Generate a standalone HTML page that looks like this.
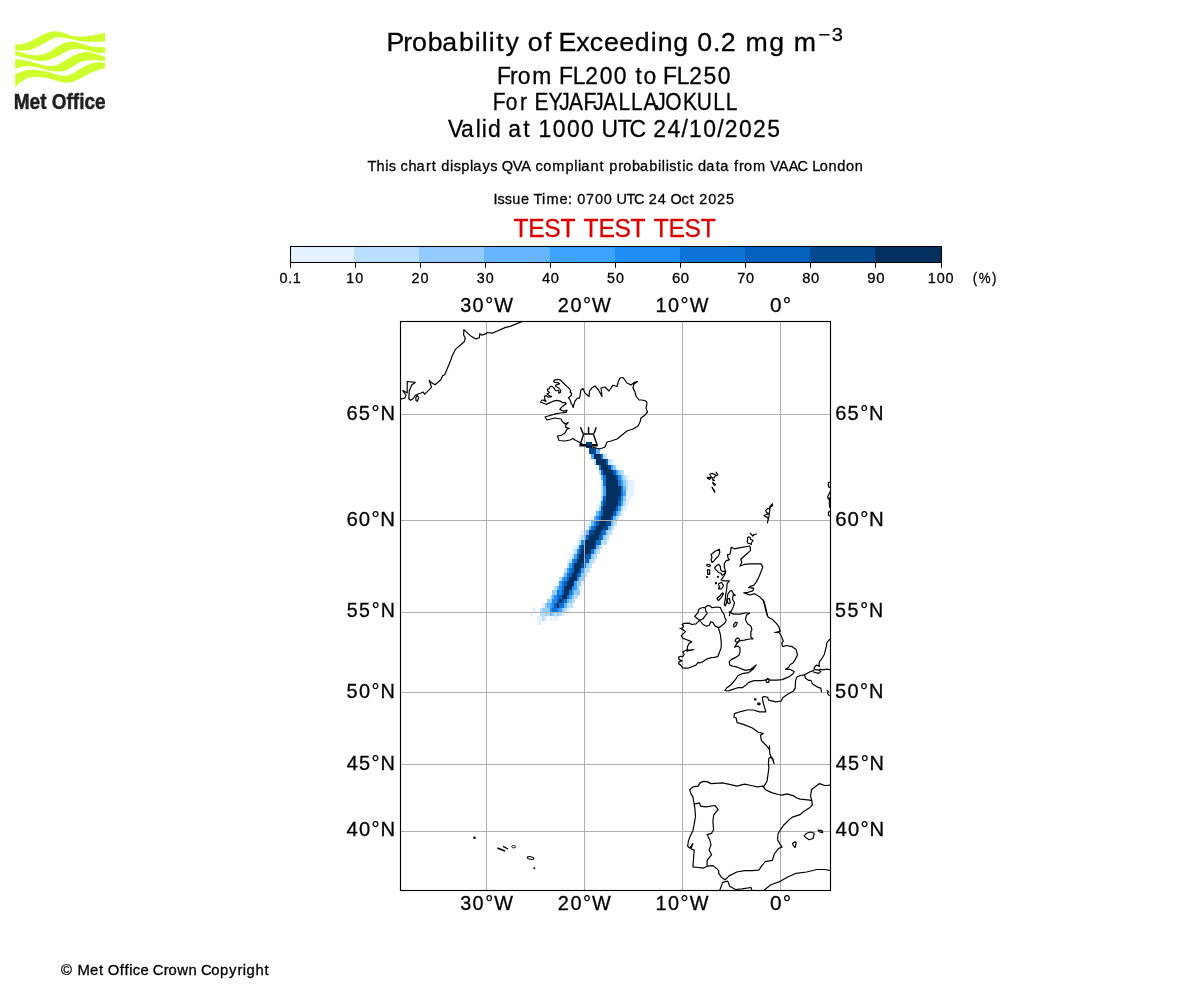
<!DOCTYPE html>
<html><head><meta charset="utf-8"><style>
html,body{margin:0;padding:0;background:#fff;width:1200px;height:1000px;overflow:hidden}
svg{display:block}
text{font-family:"Liberation Sans",sans-serif;font-kerning:none;white-space:pre}
svg{will-change:transform}
</style></head><body>
<svg width="1200" height="1000" viewBox="0 0 1200 1000">
<defs><clipPath id="mapclip"><rect x="400.5" y="321.5" width="430.00" height="569.00"/></clipPath></defs>
<text transform="scale(1.0077,1)" x="383.63 400.25 408.98 424.59 438.97 455.54 471.14 478.02 484.93 492.42 501.74 515.98 523.83 539.78 547.78 554.31 571.74 585.22 599.27 614.54 629.85 645.75 652.67 668.21 683.86 692.00 707.52 715.34 731.20 739.94 763.35 779.00 787.74" y="50.70" font-size="26.49" fill="#000" stroke="#000" stroke-width="0.3">Probability of Exceeding 0.2 mg m</text>
<text transform="scale(1.0873,1)" x="752.87 765.02" y="40.80" font-size="18.54" fill="#000" stroke="#000" stroke-width="0.3">−3</text>
<text transform="scale(0.9720,1)" x="511.28 524.65 532.77 547.69 568.93 575.18 589.29 602.14 616.98 631.53 645.72 653.77 662.03 675.93 682.18 696.29 709.14 723.89 738.53" y="84.00" font-size="23.54" fill="#000" stroke="#000" stroke-width="0.3">From FL200 to FL250</text>
<text transform="scale(0.8899,1)" x="553.80 568.38 584.32 593.52 600.76 616.31 628.40 639.40 655.79 666.77 677.77 695.16 709.07 723.24 736.26 747.68 767.65 783.00 801.63 815.54" y="109.90" font-size="23.54" fill="#000" stroke="#000" stroke-width="0.3">For EYJAFJALLAJOKULL</text>
<text transform="scale(0.9736,1)" x="460.12 473.61 488.56 494.91 501.24 515.53 522.02 537.56 545.72 553.21 567.84 582.36 596.88 611.05 617.80 634.44 646.60 663.55 670.86 685.67 700.06 707.77 722.41 736.79 744.32 759.14 773.36 788.09" y="136.60" font-size="23.54" fill="#000" stroke="#000" stroke-width="0.3">Valid at 1000 UTC 24/10/2025</text>
<text transform="scale(0.9895,1)" x="371.34 380.49 389.34 392.99 400.42 404.71 412.78 420.99 430.62 436.35 441.37 445.93 454.88 458.54 466.22 475.00 478.26 487.66 495.57 502.99 507.07 518.21 526.91 536.81 541.10 549.01 558.14 571.52 580.29 584.20 587.46 596.77 605.95 610.97 615.70 624.86 629.82 638.66 646.80 656.17 664.95 668.84 672.75 676.41 684.31 689.47 693.06 700.95 705.51 713.82 723.41 727.92 737.03 741.91 746.96 751.92 761.05 774.16 778.33 787.03 797.03 806.00 816.48 820.87 828.54 837.31 846.09 854.93 863.70" y="170.90" font-size="14.72" fill="#000" stroke="#000" stroke-width="0.3">This chart displays QVA compliant probabilistic data from VAAC London</text>
<text transform="scale(0.9824,1)" x="502.29 506.52 513.89 521.51 530.40 539.02 543.13 551.84 556.23 569.49 578.25 582.87 587.57 596.53 605.56 614.55 623.35 627.50 637.81 645.34 655.87 660.38 669.56 678.35 682.49 693.81 702.24 707.29 711.80 720.98 729.79 738.92" y="204.00" font-size="14.72" fill="#000" stroke="#000" stroke-width="0.3">Issue Time: 0700 UTC 24 Oct 2025</text>
<text transform="scale(0.9302,1)" x="552.00 567.89 585.11 602.46 619.34 627.42 643.31 660.53 677.87 694.76 702.83 718.72 735.94 753.29" y="237.10" font-size="26.49" fill="#dc0000" stroke="#dc0000" stroke-width="0.3">TEST TEST TEST</text>
<rect x="290.5" y="246.5" width="63.5" height="16.0" fill="#e4f2ff" shape-rendering="crispEdges"/>
<rect x="354" y="246.5" width="65" height="16.0" fill="#bbdfff" shape-rendering="crispEdges"/>
<rect x="419" y="246.5" width="65" height="16.0" fill="#93caff" shape-rendering="crispEdges"/>
<rect x="484" y="246.5" width="66" height="16.0" fill="#67b5ff" shape-rendering="crispEdges"/>
<rect x="550" y="246.5" width="65" height="16.0" fill="#3da2ff" shape-rendering="crispEdges"/>
<rect x="615" y="246.5" width="65" height="16.0" fill="#1e8cf0" shape-rendering="crispEdges"/>
<rect x="680" y="246.5" width="65" height="16.0" fill="#0f74d8" shape-rendering="crispEdges"/>
<rect x="745" y="246.5" width="65" height="16.0" fill="#0561c0" shape-rendering="crispEdges"/>
<rect x="810" y="246.5" width="65" height="16.0" fill="#03498f" shape-rendering="crispEdges"/>
<rect x="875" y="246.5" width="66.5" height="16.0" fill="#03305f" shape-rendering="crispEdges"/>
<rect x="290.5" y="246.5" width="651.0" height="16.0" fill="none" stroke="#000" stroke-width="1.05"/>
<line x1="290.50" y1="262.5" x2="290.50" y2="267.7" stroke="#000" stroke-width="1.05"/>
<text transform="scale(0.9782,1)" x="285.79 294.61 299.26" y="283.00" font-size="14.72" fill="#000" stroke="#000" stroke-width="0.3">0.1</text>
<line x1="355.50" y1="262.5" x2="355.50" y2="267.7" stroke="#000" stroke-width="1.05"/>
<text transform="scale(0.9737,1)" x="355.69 364.84" y="283.00" font-size="14.72" fill="#000" stroke="#000" stroke-width="0.3">10</text>
<line x1="420.50" y1="262.5" x2="420.50" y2="267.7" stroke="#000" stroke-width="1.05"/>
<text transform="scale(0.9773,1)" x="421.10 430.33" y="283.00" font-size="14.72" fill="#000" stroke="#000" stroke-width="0.3">20</text>
<line x1="485.50" y1="262.5" x2="485.50" y2="267.7" stroke="#000" stroke-width="1.05"/>
<text transform="scale(0.9752,1)" x="488.95 498.00" y="283.00" font-size="14.72" fill="#000" stroke="#000" stroke-width="0.3">30</text>
<line x1="550.50" y1="262.5" x2="550.50" y2="267.7" stroke="#000" stroke-width="1.05"/>
<text transform="scale(0.9949,1)" x="544.80 553.68" y="283.00" font-size="14.72" fill="#000" stroke="#000" stroke-width="0.3">40</text>
<line x1="615.50" y1="262.5" x2="615.50" y2="267.7" stroke="#000" stroke-width="1.05"/>
<text transform="scale(0.9670,1)" x="627.71 636.91" y="283.00" font-size="14.72" fill="#000" stroke="#000" stroke-width="0.3">50</text>
<line x1="680.50" y1="262.5" x2="680.50" y2="267.7" stroke="#000" stroke-width="1.05"/>
<text transform="scale(1.0119,1)" x="664.08 672.82" y="283.00" font-size="14.72" fill="#000" stroke="#000" stroke-width="0.3">60</text>
<line x1="745.50" y1="262.5" x2="745.50" y2="267.7" stroke="#000" stroke-width="1.05"/>
<text transform="scale(0.9843,1)" x="748.89 757.90" y="283.00" font-size="14.72" fill="#000" stroke="#000" stroke-width="0.3">70</text>
<line x1="810.50" y1="262.5" x2="810.50" y2="267.7" stroke="#000" stroke-width="1.05"/>
<text transform="scale(1.0002,1)" x="802.12 810.96" y="283.00" font-size="14.72" fill="#000" stroke="#000" stroke-width="0.3">80</text>
<line x1="875.50" y1="262.5" x2="875.50" y2="267.7" stroke="#000" stroke-width="1.05"/>
<text transform="scale(1.0109,1)" x="857.95 866.73" y="283.00" font-size="14.72" fill="#000" stroke="#000" stroke-width="0.3">90</text>
<line x1="941.50" y1="262.5" x2="941.50" y2="267.7" stroke="#000" stroke-width="1.05"/>
<text transform="scale(0.9810,1)" x="945.77 954.86 963.87" y="283.00" font-size="14.72" fill="#000" stroke="#000" stroke-width="0.3">100</text>
<text transform="scale(0.9017,1)" x="1078.75 1085.35 1100.13" y="283.00" font-size="14.72" fill="#000" stroke="#000" stroke-width="0.3">(%)</text>
<g clip-path="url(#mapclip)">
<g shape-rendering="crispEdges"><rect x="586" y="443" width="6" height="5" fill="#03498f"/><rect x="589" y="448" width="7" height="6" fill="#03498f"/><rect x="596" y="448" width="4" height="6" fill="#67b5ff"/><rect x="591" y="454" width="3" height="5" fill="#3da2ff"/><rect x="594" y="454" width="7" height="5" fill="#03305f"/><rect x="601" y="454" width="2" height="5" fill="#0f74d8"/><rect x="603" y="454" width="4" height="5" fill="#bbdfff"/><rect x="594" y="459" width="2" height="6" fill="#bbdfff"/><rect x="596" y="459" width="10" height="6" fill="#03305f"/><rect x="606" y="459" width="2" height="6" fill="#0561c0"/><rect x="608" y="459" width="3" height="6" fill="#bbdfff"/><rect x="611" y="459" width="3" height="6" fill="#e4f2ff"/><rect x="596" y="465" width="2" height="5" fill="#e4f2ff"/><rect x="599" y="465" width="2" height="5" fill="#0f74d8"/><rect x="601" y="465" width="7" height="5" fill="#03305f"/><rect x="608" y="465" width="3" height="5" fill="#03498f"/><rect x="611" y="465" width="2" height="5" fill="#3da2ff"/><rect x="613" y="465" width="3" height="5" fill="#93caff"/><rect x="616" y="465" width="3" height="5" fill="#e4f2ff"/><rect x="599" y="470" width="2" height="5" fill="#bbdfff"/><rect x="601" y="470" width="2" height="5" fill="#0f74d8"/><rect x="603" y="470" width="10" height="5" fill="#03305f"/><rect x="613" y="470" width="3" height="5" fill="#0561c0"/><rect x="616" y="470" width="2" height="5" fill="#3da2ff"/><rect x="618" y="470" width="3" height="5" fill="#93caff"/><rect x="621" y="470" width="3" height="5" fill="#bbdfff"/><rect x="601" y="475" width="2" height="5" fill="#67b5ff"/><rect x="603" y="475" width="3" height="5" fill="#0f74d8"/><rect x="606" y="475" width="10" height="5" fill="#03305f"/><rect x="616" y="475" width="2" height="5" fill="#03498f"/><rect x="618" y="475" width="3" height="5" fill="#1e8cf0"/><rect x="621" y="475" width="2" height="5" fill="#67b5ff"/><rect x="623" y="475" width="3" height="5" fill="#bbdfff"/><rect x="626" y="475" width="3" height="5" fill="#e4f2ff"/><rect x="601" y="480" width="2" height="6" fill="#bbdfff"/><rect x="603" y="480" width="3" height="6" fill="#0f74d8"/><rect x="606" y="480" width="12" height="6" fill="#03305f"/><rect x="618" y="480" width="3" height="6" fill="#0f74d8"/><rect x="621" y="480" width="2" height="6" fill="#3da2ff"/><rect x="623" y="480" width="3" height="6" fill="#93caff"/><rect x="626" y="480" width="2" height="6" fill="#bbdfff"/><rect x="628" y="480" width="6" height="6" fill="#e4f2ff"/><rect x="601" y="486" width="2" height="5" fill="#bbdfff"/><rect x="603" y="486" width="3" height="5" fill="#3da2ff"/><rect x="606" y="486" width="15" height="5" fill="#03305f"/><rect x="621" y="486" width="2" height="5" fill="#0f74d8"/><rect x="623" y="486" width="3" height="5" fill="#67b5ff"/><rect x="626" y="486" width="2" height="5" fill="#bbdfff"/><rect x="628" y="486" width="6" height="5" fill="#e4f2ff"/><rect x="601" y="491" width="2" height="5" fill="#bbdfff"/><rect x="603" y="491" width="3" height="5" fill="#3da2ff"/><rect x="606" y="491" width="15" height="5" fill="#03305f"/><rect x="621" y="491" width="2" height="5" fill="#0f74d8"/><rect x="623" y="491" width="3" height="5" fill="#3da2ff"/><rect x="626" y="491" width="8" height="5" fill="#e4f2ff"/><rect x="601" y="496" width="2" height="5" fill="#93caff"/><rect x="603" y="496" width="3" height="5" fill="#0561c0"/><rect x="606" y="496" width="12" height="5" fill="#03305f"/><rect x="618" y="496" width="3" height="5" fill="#03498f"/><rect x="621" y="496" width="2" height="5" fill="#1e8cf0"/><rect x="623" y="496" width="3" height="5" fill="#93caff"/><rect x="626" y="496" width="5" height="5" fill="#e4f2ff"/><rect x="599" y="501" width="2" height="5" fill="#e4f2ff"/><rect x="601" y="501" width="2" height="5" fill="#1e8cf0"/><rect x="603" y="501" width="3" height="5" fill="#03498f"/><rect x="606" y="501" width="12" height="5" fill="#03305f"/><rect x="618" y="501" width="3" height="5" fill="#0561c0"/><rect x="621" y="501" width="2" height="5" fill="#3da2ff"/><rect x="623" y="501" width="3" height="5" fill="#bbdfff"/><rect x="626" y="501" width="3" height="5" fill="#e4f2ff"/><rect x="596" y="506" width="3" height="5" fill="#e4f2ff"/><rect x="599" y="506" width="2" height="5" fill="#93caff"/><rect x="601" y="506" width="2" height="5" fill="#0561c0"/><rect x="603" y="506" width="13" height="5" fill="#03305f"/><rect x="616" y="506" width="2" height="5" fill="#0561c0"/><rect x="618" y="506" width="3" height="5" fill="#3da2ff"/><rect x="621" y="506" width="2" height="5" fill="#bbdfff"/><rect x="623" y="506" width="4" height="5" fill="#e4f2ff"/><rect x="594" y="511" width="2" height="5" fill="#e4f2ff"/><rect x="596" y="511" width="3" height="5" fill="#67b5ff"/><rect x="599" y="511" width="2" height="5" fill="#1e8cf0"/><rect x="601" y="511" width="2" height="5" fill="#0561c0"/><rect x="603" y="511" width="10" height="5" fill="#03305f"/><rect x="613" y="511" width="3" height="5" fill="#0561c0"/><rect x="616" y="511" width="2" height="5" fill="#3da2ff"/><rect x="618" y="511" width="3" height="5" fill="#93caff"/><rect x="621" y="511" width="3" height="5" fill="#e4f2ff"/><rect x="591" y="516" width="3" height="5" fill="#e4f2ff"/><rect x="594" y="516" width="2" height="5" fill="#67b5ff"/><rect x="596" y="516" width="3" height="5" fill="#1e8cf0"/><rect x="599" y="516" width="2" height="5" fill="#0561c0"/><rect x="601" y="516" width="10" height="5" fill="#03305f"/><rect x="611" y="516" width="2" height="5" fill="#0561c0"/><rect x="613" y="516" width="3" height="5" fill="#67b5ff"/><rect x="616" y="516" width="3" height="5" fill="#bbdfff"/><rect x="586" y="521" width="5" height="5" fill="#e4f2ff"/><rect x="591" y="521" width="3" height="5" fill="#67b5ff"/><rect x="594" y="521" width="2" height="5" fill="#1e8cf0"/><rect x="596" y="521" width="3" height="5" fill="#0561c0"/><rect x="599" y="521" width="7" height="5" fill="#03305f"/><rect x="606" y="521" width="5" height="5" fill="#03498f"/><rect x="611" y="521" width="2" height="5" fill="#67b5ff"/><rect x="613" y="521" width="4" height="5" fill="#bbdfff"/><rect x="585" y="526" width="4" height="4" fill="#e4f2ff"/><rect x="589" y="526" width="2" height="4" fill="#67b5ff"/><rect x="591" y="526" width="3" height="4" fill="#0f74d8"/><rect x="594" y="526" width="2" height="4" fill="#0561c0"/><rect x="596" y="526" width="7" height="4" fill="#03305f"/><rect x="603" y="526" width="5" height="4" fill="#03498f"/><rect x="608" y="526" width="3" height="4" fill="#67b5ff"/><rect x="611" y="526" width="3" height="4" fill="#bbdfff"/><rect x="581" y="530" width="3" height="5" fill="#e4f2ff"/><rect x="584" y="530" width="2" height="5" fill="#bbdfff"/><rect x="586" y="530" width="3" height="5" fill="#67b5ff"/><rect x="589" y="530" width="5" height="5" fill="#03498f"/><rect x="594" y="530" width="7" height="5" fill="#03305f"/><rect x="601" y="530" width="2" height="5" fill="#0561c0"/><rect x="603" y="530" width="3" height="5" fill="#0f74d8"/><rect x="606" y="530" width="2" height="5" fill="#93caff"/><rect x="608" y="530" width="4" height="5" fill="#bbdfff"/><rect x="579" y="535" width="2" height="5" fill="#e4f2ff"/><rect x="581" y="535" width="4" height="5" fill="#bbdfff"/><rect x="585" y="535" width="1" height="5" fill="#67b5ff"/><rect x="586" y="535" width="3" height="5" fill="#0561c0"/><rect x="589" y="535" width="10" height="5" fill="#03305f"/><rect x="599" y="535" width="2" height="5" fill="#0561c0"/><rect x="601" y="535" width="2" height="5" fill="#0f74d8"/><rect x="603" y="535" width="3" height="5" fill="#93caff"/><rect x="606" y="535" width="3" height="5" fill="#bbdfff"/><rect x="577" y="540" width="2" height="5" fill="#e4f2ff"/><rect x="579" y="540" width="2" height="5" fill="#bbdfff"/><rect x="581" y="540" width="3" height="5" fill="#1e8cf0"/><rect x="584" y="540" width="12" height="5" fill="#03305f"/><rect x="596" y="540" width="5" height="5" fill="#0f74d8"/><rect x="601" y="540" width="6" height="5" fill="#bbdfff"/><rect x="574" y="545" width="3" height="4" fill="#e4f2ff"/><rect x="577" y="545" width="2" height="4" fill="#bbdfff"/><rect x="579" y="545" width="2" height="4" fill="#0f74d8"/><rect x="581" y="545" width="3" height="4" fill="#03498f"/><rect x="584" y="545" width="10" height="4" fill="#03305f"/><rect x="594" y="545" width="2" height="4" fill="#03498f"/><rect x="596" y="545" width="3" height="4" fill="#67b5ff"/><rect x="599" y="545" width="3" height="4" fill="#bbdfff"/><rect x="572" y="549" width="2" height="5" fill="#e4f2ff"/><rect x="574" y="549" width="3" height="5" fill="#bbdfff"/><rect x="577" y="549" width="2" height="5" fill="#1e8cf0"/><rect x="579" y="549" width="2" height="5" fill="#0561c0"/><rect x="581" y="549" width="10" height="5" fill="#03305f"/><rect x="591" y="549" width="3" height="5" fill="#0f74d8"/><rect x="594" y="549" width="2" height="5" fill="#67b5ff"/><rect x="596" y="549" width="4" height="5" fill="#bbdfff"/><rect x="569" y="554" width="3" height="5" fill="#e4f2ff"/><rect x="572" y="554" width="2" height="5" fill="#bbdfff"/><rect x="574" y="554" width="3" height="5" fill="#3da2ff"/><rect x="577" y="554" width="2" height="5" fill="#0561c0"/><rect x="579" y="554" width="7" height="5" fill="#03305f"/><rect x="586" y="554" width="5" height="5" fill="#0561c0"/><rect x="591" y="554" width="3" height="5" fill="#93caff"/><rect x="594" y="554" width="3" height="5" fill="#bbdfff"/><rect x="567" y="559" width="2" height="4" fill="#e4f2ff"/><rect x="569" y="559" width="3" height="4" fill="#bbdfff"/><rect x="572" y="559" width="2" height="4" fill="#1e8cf0"/><rect x="574" y="559" width="3" height="4" fill="#0f74d8"/><rect x="577" y="559" width="8" height="4" fill="#03305f"/><rect x="585" y="559" width="4" height="4" fill="#0561c0"/><rect x="589" y="559" width="2" height="4" fill="#93caff"/><rect x="591" y="559" width="4" height="4" fill="#bbdfff"/><rect x="567" y="563" width="2" height="5" fill="#bbdfff"/><rect x="569" y="563" width="3" height="5" fill="#3da2ff"/><rect x="572" y="563" width="2" height="5" fill="#0f74d8"/><rect x="574" y="563" width="7" height="5" fill="#03305f"/><rect x="581" y="563" width="3" height="5" fill="#03498f"/><rect x="584" y="563" width="2" height="5" fill="#0f74d8"/><rect x="586" y="563" width="3" height="5" fill="#93caff"/><rect x="589" y="563" width="3" height="5" fill="#bbdfff"/><rect x="564" y="568" width="3" height="5" fill="#bbdfff"/><rect x="567" y="568" width="2" height="5" fill="#3da2ff"/><rect x="569" y="568" width="3" height="5" fill="#0f74d8"/><rect x="572" y="568" width="2" height="5" fill="#0561c0"/><rect x="574" y="568" width="5" height="5" fill="#03305f"/><rect x="579" y="568" width="2" height="5" fill="#03498f"/><rect x="581" y="568" width="3" height="5" fill="#3da2ff"/><rect x="584" y="568" width="6" height="5" fill="#bbdfff"/><rect x="562" y="573" width="2" height="4" fill="#e4f2ff"/><rect x="564" y="573" width="3" height="4" fill="#67b5ff"/><rect x="567" y="573" width="2" height="4" fill="#0f74d8"/><rect x="569" y="573" width="3" height="4" fill="#0561c0"/><rect x="572" y="573" width="5" height="4" fill="#03305f"/><rect x="577" y="573" width="2" height="4" fill="#0561c0"/><rect x="579" y="573" width="2" height="4" fill="#0f74d8"/><rect x="581" y="573" width="3" height="4" fill="#93caff"/><rect x="584" y="573" width="3" height="4" fill="#bbdfff"/><rect x="559" y="577" width="3" height="4" fill="#bbdfff"/><rect x="562" y="577" width="2" height="4" fill="#3da2ff"/><rect x="564" y="577" width="3" height="4" fill="#1e8cf0"/><rect x="567" y="577" width="2" height="4" fill="#0561c0"/><rect x="569" y="577" width="8" height="4" fill="#03305f"/><rect x="577" y="577" width="2" height="4" fill="#1e8cf0"/><rect x="579" y="577" width="5" height="4" fill="#93caff"/><rect x="557" y="581" width="2" height="5" fill="#e4f2ff"/><rect x="559" y="581" width="3" height="5" fill="#3da2ff"/><rect x="562" y="581" width="2" height="5" fill="#0f74d8"/><rect x="564" y="581" width="3" height="5" fill="#0561c0"/><rect x="567" y="581" width="7" height="5" fill="#03305f"/><rect x="574" y="581" width="3" height="5" fill="#3da2ff"/><rect x="577" y="581" width="4" height="5" fill="#93caff"/><rect x="581" y="581" width="3" height="5" fill="#e4f2ff"/><rect x="554" y="586" width="3" height="4" fill="#bbdfff"/><rect x="557" y="586" width="2" height="4" fill="#67b5ff"/><rect x="559" y="586" width="3" height="4" fill="#1e8cf0"/><rect x="562" y="586" width="2" height="4" fill="#0f74d8"/><rect x="564" y="586" width="8" height="4" fill="#03305f"/><rect x="572" y="586" width="2" height="4" fill="#1e8cf0"/><rect x="574" y="586" width="3" height="4" fill="#3da2ff"/><rect x="577" y="586" width="2" height="4" fill="#93caff"/><rect x="579" y="586" width="3" height="4" fill="#e4f2ff"/><rect x="552" y="590" width="5" height="5" fill="#93caff"/><rect x="557" y="590" width="2" height="5" fill="#0f74d8"/><rect x="559" y="590" width="3" height="5" fill="#1e8cf0"/><rect x="562" y="590" width="2" height="5" fill="#0561c0"/><rect x="564" y="590" width="5" height="5" fill="#03305f"/><rect x="569" y="590" width="3" height="5" fill="#0f74d8"/><rect x="572" y="590" width="2" height="5" fill="#3da2ff"/><rect x="574" y="590" width="6" height="5" fill="#93caff"/><rect x="550" y="595" width="2" height="4" fill="#bbdfff"/><rect x="552" y="595" width="2" height="4" fill="#67b5ff"/><rect x="554" y="595" width="3" height="4" fill="#1e8cf0"/><rect x="557" y="595" width="2" height="4" fill="#0f74d8"/><rect x="559" y="595" width="3" height="4" fill="#0561c0"/><rect x="562" y="595" width="5" height="4" fill="#03305f"/><rect x="567" y="595" width="2" height="4" fill="#0f74d8"/><rect x="569" y="595" width="3" height="4" fill="#3da2ff"/><rect x="572" y="595" width="2" height="4" fill="#93caff"/><rect x="574" y="595" width="4" height="4" fill="#bbdfff"/><rect x="547" y="599" width="5" height="4" fill="#93caff"/><rect x="552" y="599" width="5" height="4" fill="#1e8cf0"/><rect x="557" y="599" width="2" height="4" fill="#0561c0"/><rect x="559" y="599" width="3" height="4" fill="#03305f"/><rect x="562" y="599" width="2" height="4" fill="#0561c0"/><rect x="564" y="599" width="3" height="4" fill="#0f74d8"/><rect x="567" y="599" width="2" height="4" fill="#67b5ff"/><rect x="569" y="599" width="3" height="4" fill="#93caff"/><rect x="572" y="599" width="3" height="4" fill="#bbdfff"/><rect x="542" y="603" width="3" height="5" fill="#e4f2ff"/><rect x="545" y="603" width="2" height="5" fill="#93caff"/><rect x="547" y="603" width="3" height="5" fill="#67b5ff"/><rect x="550" y="603" width="2" height="5" fill="#3da2ff"/><rect x="552" y="603" width="2" height="5" fill="#1e8cf0"/><rect x="554" y="603" width="3" height="5" fill="#0561c0"/><rect x="557" y="603" width="2" height="5" fill="#03305f"/><rect x="559" y="603" width="5" height="5" fill="#0f74d8"/><rect x="564" y="603" width="3" height="5" fill="#67b5ff"/><rect x="567" y="603" width="6" height="5" fill="#bbdfff"/><rect x="532" y="608" width="4" height="4" fill="#e4f2ff"/><rect x="540" y="608" width="2" height="4" fill="#bbdfff"/><rect x="542" y="608" width="8" height="4" fill="#93caff"/><rect x="550" y="608" width="2" height="4" fill="#1e8cf0"/><rect x="552" y="608" width="5" height="4" fill="#0f74d8"/><rect x="557" y="608" width="2" height="4" fill="#1e8cf0"/><rect x="559" y="608" width="3" height="4" fill="#3da2ff"/><rect x="562" y="608" width="2" height="4" fill="#93caff"/><rect x="564" y="608" width="3" height="4" fill="#bbdfff"/><rect x="567" y="608" width="3" height="4" fill="#e4f2ff"/><rect x="530" y="612" width="3" height="4" fill="#e4f2ff"/><rect x="540" y="612" width="5" height="4" fill="#bbdfff"/><rect x="545" y="612" width="2" height="4" fill="#93caff"/><rect x="547" y="612" width="3" height="4" fill="#bbdfff"/><rect x="550" y="612" width="2" height="4" fill="#67b5ff"/><rect x="552" y="612" width="2" height="4" fill="#93caff"/><rect x="554" y="612" width="3" height="4" fill="#bbdfff"/><rect x="557" y="612" width="2" height="4" fill="#93caff"/><rect x="559" y="612" width="3" height="4" fill="#bbdfff"/><rect x="562" y="612" width="3" height="4" fill="#e4f2ff"/><rect x="537" y="616" width="5" height="5" fill="#e4f2ff"/><rect x="542" y="616" width="3" height="5" fill="#bbdfff"/><rect x="545" y="616" width="3" height="5" fill="#e4f2ff"/><rect x="550" y="616" width="3" height="5" fill="#e4f2ff"/><rect x="554" y="616" width="4" height="5" fill="#e4f2ff"/><rect x="537" y="621" width="4" height="4" fill="#e4f2ff"/></g>
<line x1="486.50" y1="321.5" x2="486.50" y2="890.5" stroke="#b0b0b0" stroke-width="1"/>
<line x1="584.50" y1="321.5" x2="584.50" y2="890.5" stroke="#b0b0b0" stroke-width="1"/>
<line x1="682.50" y1="321.5" x2="682.50" y2="890.5" stroke="#b0b0b0" stroke-width="1"/>
<line x1="780.50" y1="321.5" x2="780.50" y2="890.5" stroke="#b0b0b0" stroke-width="1"/>
<line x1="400.5" y1="831.50" x2="830.5" y2="831.50" stroke="#b0b0b0" stroke-width="1"/>
<line x1="400.5" y1="764.50" x2="830.5" y2="764.50" stroke="#b0b0b0" stroke-width="1"/>
<line x1="400.5" y1="692.50" x2="830.5" y2="692.50" stroke="#b0b0b0" stroke-width="1"/>
<line x1="400.5" y1="612.50" x2="830.5" y2="612.50" stroke="#b0b0b0" stroke-width="1"/>
<line x1="400.5" y1="520.50" x2="830.5" y2="520.50" stroke="#b0b0b0" stroke-width="1"/>
<line x1="400.5" y1="414.50" x2="830.5" y2="414.50" stroke="#b0b0b0" stroke-width="1"/>
<g stroke="#000" fill="none" stroke-linecap="butt"><line x1="579.4" y1="445.3" x2="597.7" y2="445.3" stroke-width="2.6"/><path d="M580.2,444.5 L583.7,434 L593.3,434 L597,444.5" stroke-width="1.4" stroke-linejoin="miter"/><line x1="583.1" y1="433.6" x2="580.5" y2="427.2" stroke-width="1.5"/><line x1="588.55" y1="433.6" x2="588.55" y2="427.1" stroke-width="1.5"/><line x1="594" y1="433.6" x2="596.3" y2="427.2" stroke-width="1.5"/></g><rect x="586" y="442" width="6" height="6" fill="#033f7f" shape-rendering="crispEdges"/><g fill="none" stroke="#000" stroke-width="1.2" stroke-linejoin="round" stroke-linecap="round"><path d="M400.0,399.2 L404.7,398.1 L406.1,395.5 L402.9,390.6 L405.3,391.8 L407.2,392.9 L407.2,381.5 L415.2,382.4 L411.7,385.0 L409.3,390.8 L408.8,398.8 L410.5,400.2 L412.8,399.0 L415.2,395.5 L417.5,394.3 L420.4,393.2 L423.3,392.0 L424.5,394.3 L431.5,387.3 L429.2,380.3 L431.5,382.7 L435.0,384.8 L440.8,379.8 L442.6,375.7 L444.9,374.5 L451.3,358.8 L451.9,356.4 L455.4,349.4 L464.2,341.8 L465.3,338.3 L463.6,334.8 L463.9,329.6 L470.0,335.4 L475.8,338.9 L479.3,337.8 L479.9,333.7 L481.7,335.1 L485.8,333.9 L486.9,332.5 L492.2,333.1 L496.8,331.3 L505.0,327.6 L510.8,326.1 L522.5,321.4"/><path d="M415.8,397.3 L417.3,395.5 L418.7,397.3 L417.5,401.3 L416.1,400.8 Z"/><path d="M579.5,398.2 L581.0,390.0 L583.0,388.5 L585.0,393.0 L589.0,396.5 L589.5,391.0 L592.0,387.8 L595.0,386.0 L598.5,390.0 L602.0,396.5 L601.0,388.0 L605.0,387.0 L609.0,391.0 L613.0,385.2 L617.0,386.5 L618.5,381.0 L620.0,378.0 L623.0,377.5 L627.0,383.0 L631.0,385.0 L635.0,382.0 L637.5,381.5 L634.0,384.0 L633.0,388.0 L635.0,392.0 L636.0,396.0 L639.0,400.0 L642.0,400.0 L646.0,401.0 L647.0,403.0 L646.0,408.0 L647.5,412.0 L645.0,415.0 L641.0,418.0 L640.0,422.0 L638.0,426.0 L633.0,429.0 L627.0,431.0 L622.0,435.0 L617.0,439.0 L611.0,441.0 L607.0,442.0 L605.0,447.0 L600.0,449.0 L596.0,448.0 L592.0,447.0 L587.0,446.0 L582.0,444.0 L579.0,442.0 L575.0,440.0 L573.0,438.5 L570.0,440.0 L565.0,441.0 L559.0,440.5 L557.5,436.0 L561.0,435.5 L565.0,433.0 L566.0,431.0 L567.0,429.0 L569.5,428.5 L565.5,427.2 L566.2,424.5 L568.2,422.5 L565.0,424.0 L562.0,421.0 L561.0,419.0 L555.0,418.0 L547.0,420.0 L545.0,417.0 L550.0,415.5 L556.4,413.6 L560.4,413.0 L566.0,412.4 L567.0,410.4 L563.6,411.2 L559.8,409.4 L561.2,407.6 L564.0,405.2 L566.2,403.8 L565.2,402.6 L562.4,402.6 L560.4,401.2 L556.8,400.3 L553.2,401.2 L550.0,402.6 L546.4,404.4 L543.6,403.2 L540.4,402.0 L542.0,400.0 L544.0,400.4 L546.0,401.4 L545.0,399.6 L544.4,396.4 L546.0,395.6 L548.4,397.2 L551.6,396.6 L548.8,395.2 L547.0,393.8 L548.8,393.2 L549.4,392.4 L547.6,390.8 L547.4,389.2 L549.2,388.8 L550.0,386.8 L551.6,386.2 L553.6,387.4 L554.8,389.6 L556.0,390.8 L558.0,390.2 L558.8,391.2 L558.8,393.2 L560.4,392.4 L560.4,390.0 L558.8,388.0 L556.0,386.4 L555.6,385.2 L557.6,384.4 L559.6,384.0 L558.0,382.6 L554.4,382.4 L553.6,381.2 L555.2,379.8 L557.6,379.4 L560.0,379.8 L562.0,381.6 L564.4,384.0 L566.8,386.4 L569.6,388.8 L570.8,390.8 L570.0,392.0 L571.6,393.2 L571.2,395.6 L569.6,396.8 L568.4,397.6 L569.6,399.2 L570.8,401.6 L570.8,403.2 L572.0,404.4 L573.2,407.6 L574.0,404.0 L575.2,400.8 L576.8,398.8 L578.0,398.0 Z"/><path d="M709.9,474.0 L712.9,473.4 L715.6,474.9 L714.4,477.6 L712.6,478.2 L711.4,477.0 L710.2,475.5 Z"/><path d="M707.2,477.3 L711.4,477.6 L709.6,479.4 L707.8,478.5 Z"/><path d="M716.2,472.2 L717.7,474.9 L716.2,475.8"/><path d="M712.6,479.4 L714.4,480.4 L713.2,480.6 Z"/><path d="M712.6,482.4 L715.6,484.8 L714.4,485.3 L713.0,483.5 Z"/><path d="M712.0,487.2 L714.7,491.0 L714.7,492.3 L713.0,489.5 Z"/><path d="M772.4,504.0 L772.6,506.0 L770.0,507.0 L769.6,509.0 L767.8,508.4 L765.6,510.6 L766.6,512.6 L768.8,513.6 L766.0,514.8 L764.0,515.4 L765.4,516.6 L767.8,517.4 L768.2,519.4 L767.6,522.0 L767.4,523.0"/><path d="M772.4,504.0 L770.0,506.5 L769.8,510.0 L769.4,513.0 L769.0,516.0 L768.5,519.0"/><path d="M831.0,482.0 L828.5,482.5 L828.3,485.0 L829.0,487.2 L831.0,487.4"/><path d="M831.0,490.0 L829.5,493.0 L827.6,497.0 L828.5,499.2 L829.5,498.0 L829.3,503.0 L829.6,507.0 L831.0,509.0"/><path d="M831.0,511.0 L828.5,512.0 L828.4,515.5 L831.0,516.3"/><path d="M731.2,547.4 L734.4,548.8 L739.0,547.8 L750.0,546.0 L750.5,550.6 L746.3,554.3 L740.8,559.3 L741.8,562.5 L739.9,566.2 L744.5,564.3 L750.0,563.9 L761.0,563.9 L762.8,567.1 L761.0,571.7 L759.2,576.3 L756.4,581.8 L753.7,585.4 L750.0,586.3 L748.6,587.7 L753.7,588.2 L752.8,590.9 L748.2,592.3 L743.6,592.8 L747.7,594.1 L750.0,595.0 L754.6,593.7 L759.2,596.4 L763.8,601.0 L765.6,607.4 L767.4,615.7"/><path d="M731.2,547.4 L730.8,550.6 L729.8,554.3 L727.5,554.7 L728.0,557.9 L729.4,559.8 L726.2,560.7 L724.3,563.4 L724.3,567.1 L725.7,571.7 L724.3,575.3 L722.5,578.1 L721.1,579.9 L724.3,580.8 L729.4,580.8 L727.1,583.6 L726.6,590.0 L725.7,594.6 L725.3,599.2 L724.3,604.7 L725.3,606.0 L726.6,602.8 L727.1,598.3 L728.0,593.7 L730.3,590.9 L731.7,590.5 L733.5,593.7 L735.3,595.5 L733.0,595.0 L732.6,599.2 L734.4,602.8 L733.5,606.5 L731.7,610.2 L729.8,612.9 L729.4,615.7"/><path d="M711.0,554.7 L714.7,551.5 L719.3,549.2 L719.8,552.4 L718.4,556.1 L715.6,558.8 L713.3,561.6 L712.0,562.5 L711.0,559.8 L712.0,557.5 Z"/><path d="M706.9,564.5 L709.7,564.3 L710.6,565.7 L708.8,566.6 L706.9,565.7 Z"/><path d="M707.4,569.8 L709.7,569.8 L709.7,574.4 L707.8,574.4 Z"/><path d="M714.7,567.5 L717.0,565.3 L718.8,564.3 L720.2,566.2 L720.7,569.8 L722.5,571.7 L724.8,571.2 L725.3,573.5 L723.4,574.4 L722.0,575.3 L720.7,573.0 L718.8,572.6 L717.0,570.8 L715.2,569.4 Z"/><path d="M718.8,583.6 L721.6,582.2 L722.5,584.0 L723.4,585.4 L722.5,587.7 L720.7,589.1 L718.4,588.6 L719.8,586.8 L718.4,585.0 Z"/><path d="M717.0,598.3 L719.8,596.0 L722.5,592.8 L723.4,593.7 L721.6,597.3 L719.8,599.2 L718.8,600.5 L717.5,599.6 Z"/><path d="M727.5,599.2 L729.4,598.3 L730.3,602.8 L728.9,603.8 L727.5,602.8 Z"/><path d="M747.5,538.0 L748.8,536.8 L750.2,537.5 L750.8,539.5 L753.0,540.5 L752.0,542.0 L751.2,543.0 L751.5,544.5 L749.5,543.5 L748.0,543.2 L747.0,541.5 L747.8,540.0 Z"/><path d="M750.2,533.2 L752.8,536.0 L754.2,534.5 L756.5,534.0"/><path d="M706.7,576.7 L707.3,576.7 L707.3,577.4 L706.7,577.4 Z"/><path d="M717.6,576.3 L718.4,576.3 L718.4,577.2 L717.6,577.2 Z"/><path d="M715.6,582.7 L716.4,582.7 L716.4,583.6 L715.6,583.6 Z"/><path d="M694.6,616.4 L698.1,612.6 L698.4,609.8 L700.9,608.0 L705.1,607.3 L707.9,605.6 L709.3,605.6 L712.1,607.7 L717.0,607.0 L720.5,607.7 L721.9,611.2 L724.0,614.0 L724.7,617.5 L726.1,619.6 L725.4,622.4 L723.3,624.5 L720.5,626.6 L718.4,627.6 L719.1,630.1 L720.5,635.0 L721.2,642.0 L721.2,647.6 L719.1,653.2 L717.7,656.7 L714.2,657.4 L711.4,657.7 L707.2,658.8 L703.0,661.6 L699.5,663.0 L698.1,662.3 L696.0,665.1 L692.5,666.5 L689.0,667.9 L685.5,668.2 L682.7,667.9 L680.6,665.1 L678.5,663.7 L679.2,661.6 L682.0,660.9 L679.2,659.5 L678.5,657.4 L680.6,656.3 L682.7,656.7 L684.1,654.6 L683.0,651.8 L685.5,650.4 L689.0,650.0 L693.5,649.7 L689.7,650.5 L686.9,651.1 L687.6,646.2 L689.0,643.4 L691.8,642.0 L689.0,640.6 L685.5,639.2 L682.7,638.1 L681.3,635.7 L683.4,633.6 L685.5,631.5 L682.7,629.4 L679.9,628.3 L682.7,628.0 L683.4,625.9 L682.0,624.5 L684.1,623.4 L689.0,623.1 L691.8,624.5 L696.0,623.8 L699.5,620.3 L696.0,617.5 Z"/><path d="M699.5,620.3 L700.2,621.0 L703.0,624.5 L706.5,626.2 L709.3,625.2 L710.7,621.7 L712.8,622.4 L714.9,625.9 L718.4,627.6"/><path d="M705.1,607.3 L705.8,611.2 L707.2,613.3 L704.4,616.8 L703.0,618.9 L699.5,620.3"/><path d="M729.2,611.9 L733.5,614.1 L740.0,614.1 L745.4,613.0 L749.7,613.0 L746.5,615.2 L745.4,619.5 L747.6,623.8 L750.8,626.0 L751.9,629.2 L750.8,632.5 L750.8,636.8 L753.0,639.0 L749.7,639.0 L744.3,640.1 L740.0,640.6 L737.8,642.2 L734.6,647.1 L737.8,646.0 L740.0,647.7 L740.0,652.0 L738.9,655.2 L735.7,657.4 L731.3,659.6 L729.2,661.7 L729.7,665.0 L732.4,666.1 L735.7,666.6 L740.0,668.2 L745.4,670.4 L750.8,669.3 L756.2,665.0 L753.0,669.3 L748.7,672.6 L742.2,673.7 L737.8,675.8 L735.7,679.1 L731.3,684.5 L727.0,687.7 L724.8,690.5 L728.1,691.0 L731.3,689.9 L737.8,687.7 L742.2,687.7 L745.4,685.6 L748.7,682.3 L754.1,680.7 L760.6,680.7 L764.9,680.2 L768.2,679.1 L770.3,680.2 L776.8,680.2 L782.2,679.6 L788.7,676.9 L793.1,673.7 L794.2,671.5 L789.8,669.3 L785.5,669.3 L788.7,667.2 L789.8,665.0 L793.1,662.8 L795.2,659.6 L797.4,655.2 L796.3,649.8 L792.0,646.6 L786.6,645.5 L782.8,646.6 L781.7,643.3 L783.3,641.2 L781.2,635.7 L779.0,632.5 L774.7,632.5 L780.1,631.4 L779.0,627.1 L776.8,623.8 L772.5,619.5 L768.2,617.3 L766.5,613.0 L764.9,606.5 L763.3,600.0"/><path d="M733.5,624.9 L735.7,622.2 L737.3,622.7 L736.2,625.5 L734.0,627.1 Z"/><path d="M735.7,639.5 L737.3,637.9 L739.5,639.0 L738.9,641.7 L736.7,642.2 L735.1,641.2 Z"/><path d="M766.0,680.4 L767.6,678.5 L769.2,679.6 L768.7,682.3 L766.5,682.3 Z"/><path d="M831.0,639.0 L830.2,639.1 L828.5,640.5 L826.7,643.3 L826.4,646.1 L825.3,650.3 L824.3,654.5 L822.2,658.0 L820.1,660.8 L819.0,663.6 L819.4,666.4 L816.6,665.0 L814.5,667.1 L814.1,669.2 L816.6,669.9 L820.1,669.9"/><path d="M820.1,669.2 L822.9,669.9 L826.4,669.2 L831.0,669.9"/><path d="M813.4,672.0 L815.9,672.7 L818.7,673.4 L820.8,671.3 L819.0,670.5"/><path d="M804.7,674.8 L805.4,678.3 L808.9,680.4 L811.0,680.4 L812.4,683.9 L815.9,686.0 L818.0,687.4 L820.8,688.1 L821.5,691.6"/><path d="M827.0,690.5 L828.5,691.5 L827.5,693.0 L828.5,695.0 L831.0,695.5"/><path d="M813.8,670.6 L813.1,670.6 L809.6,672.0 L804.7,674.8 L800.5,675.5 L797.0,676.9 L795.6,680.4 L795.2,688.1 L793.5,690.9 L790.0,693.0 L788.4,693.8 L783.0,697.4 L781.2,701.0 L775.8,701.9 L768.6,700.1 L767.7,697.4 L764.1,696.5 L762.3,697.4 L763.2,702.8 L765.9,711.8 L759.6,711.8 L753.3,710.0 L747.0,710.0 L739.8,711.8 L734.4,713.6 L734.0,717.2 L736.2,718.1 L737.1,722.6 L743.4,724.4 L752.4,728.0 L758.7,732.5 L763.2,733.4 L760.5,735.2 L761.4,740.6 L766.8,746.0 L769.5,749.6 L769.4,745.9 L769.8,753.5 L770.8,756.4 L772.7,758.3 L774.1,763.6 L772.5,759.2 L770.5,757.2 L768.9,758.2 L768.4,763.1 L768.9,767.9 L767.0,781.3 L764.1,786.1 L762.7,786.3"/><path d="M754.7,698.8 L755.8,698.8 L755.8,699.9 L754.7,699.9 Z"/><path d="M757.8,703.1 L760.0,703.1 L760.0,704.6 L757.8,704.6 Z"/><path d="M762.7,786.1 L757.5,786.8 L751.0,785.5 L744.6,784.2 L736.8,786.1 L731.7,784.9 L722.6,782.9 L711.0,783.6 L707.1,781.6 L703.2,781.4 L700.0,782.9 L698.1,786.1 L692.9,786.8 L689.7,790.0 L691.0,793.9 L692.9,797.1 L693.6,801.0 L694.2,804.2 L694.9,808.7 L695.5,816.5 L694.2,824.2 L692.9,830.7 L690.3,835.9 L688.4,841.0 L687.7,846.2 L689.7,848.1 L692.9,843.6 L691.0,848.8 L694.2,850.1 L693.6,857.8 L692.9,866.9 L698.1,867.5 L703.2,868.2 L707.1,866.2 L712.9,865.6 L716.2,868.2 L718.7,870.7 L718.7,873.3 L721.3,877.2 L725.2,879.8 L729.1,875.9 L736.8,872.0 L744.6,870.7 L752.3,870.7 L758.8,870.1 L762.0,865.6 L765.2,861.7 L772.4,860.4 L774.3,854.0 L778.2,848.8 L782.0,846.9 L780.1,844.3 L777.5,839.7 L778.2,833.3 L780.7,829.4 L783.3,825.5 L787.2,821.7 L789.1,819.7 L792.4,817.1 L800.1,814.6 L804.0,811.3 L809.2,808.1 L812.4,804.9 L811.7,800.4 L810.5,795.8 L811.7,789.4 L819.5,783.6 L824.7,785.5 L831.1,785.2"/><path d="M762.7,786.1 L765.9,790.0 L771.7,792.6 L778.2,794.5 L782.0,795.2 L787.2,793.9 L793.7,795.8 L796.2,797.8 L800.1,799.1 L805.3,799.7 L811.7,800.4"/><path d="M694.2,804.2 L699.4,802.9 L700.7,806.2 L705.8,806.8 L714.9,805.5 L718.1,809.4 L713.6,815.2 L712.9,821.7 L713.6,829.4 L711.6,833.3 L707.1,834.6 L709.7,839.7 L711.0,844.9 L709.1,850.1 L711.6,854.6 L707.1,860.4 L707.1,865.6"/><path d="M719.4,891.4 L722.6,882.4 L727.8,881.1 L729.7,886.2 L735.5,889.5 L742.0,888.8 L751.0,887.5 L752.3,891.4"/><path d="M762.7,891.4 L770.4,885.0 L780.7,881.1 L787.2,877.2 L796.2,873.3 L806.6,872.0 L816.9,869.5 L824.7,869.5 L831.1,870.7"/><path d="M804.0,835.9 L806.6,833.3 L810.5,832.0 L814.3,833.3 L813.0,838.5 L809.2,839.7 L805.3,837.2 Z"/><path d="M818.2,830.1 L822.1,830.7 L822.7,832.6 L819.5,832.0 Z"/><path d="M792.4,843.6 L795.0,841.7 L796.2,843.0 L795.0,847.5 L793.7,846.2 Z"/></g><circle cx="474.5" cy="837.7" r="1.3" fill="#000"/><line x1="497.3" y1="848" x2="505" y2="850.9" stroke="#000" stroke-width="1.6"/><line x1="503" y1="846.3" x2="508" y2="849" stroke="#000" stroke-width="1.4"/><ellipse cx="513.7" cy="846.7" rx="2" ry="1.2" fill="none" stroke="#000" stroke-width="0.9"/><ellipse cx="530.5" cy="858" rx="3.3" ry="1.3" fill="none" stroke="#000" stroke-width="1" transform="rotate(12 530.5 858)"/><circle cx="534.3" cy="868.3" r="1.0" fill="#000"/>
</g>
<rect x="400.5" y="321.5" width="430.00" height="569.00" fill="none" stroke="#000" stroke-width="1.15"/>
<text transform="scale(0.9646,1)" x="477.07 489.87 502.94 512.33" y="311.75" font-size="20.60" fill="#000" stroke="#000" stroke-width="0.3">30°W</text>
<text transform="scale(0.9646,1)" x="477.07 489.87 502.94 512.33" y="909.75" font-size="20.60" fill="#000" stroke="#000" stroke-width="0.3">30°W</text>
<text transform="scale(0.9654,1)" x="577.82 590.90 603.96 613.34" y="311.75" font-size="20.60" fill="#000" stroke="#000" stroke-width="0.3">20°W</text>
<text transform="scale(0.9654,1)" x="577.82 590.90 603.96 613.34" y="909.75" font-size="20.60" fill="#000" stroke="#000" stroke-width="0.3">20°W</text>
<text transform="scale(0.9637,1)" x="680.25 693.18 706.26 715.67" y="311.75" font-size="20.60" fill="#000" stroke="#000" stroke-width="0.3">10°W</text>
<text transform="scale(0.9637,1)" x="680.25 693.18 706.26 715.67" y="909.75" font-size="20.60" fill="#000" stroke="#000" stroke-width="0.3">10°W</text>
<text transform="scale(1.0124,1)" x="760.67 773.19" y="311.75" font-size="20.60" fill="#000" stroke="#000" stroke-width="0.3">0°</text>
<text transform="scale(1.0124,1)" x="760.67 773.19" y="909.75" font-size="20.60" fill="#000" stroke="#000" stroke-width="0.3">0°</text>
<text transform="scale(0.9767,1)" x="354.85 367.43 380.44 389.53" y="419.75" font-size="20.60" fill="#000" stroke="#000" stroke-width="0.3">65°N</text>
<text transform="scale(0.9767,1)" x="855.12 867.70 880.71 889.80" y="419.75" font-size="20.60" fill="#000" stroke="#000" stroke-width="0.3">65°N</text>
<text transform="scale(0.9917,1)" x="349.41 361.88 374.64 383.54" y="525.85" font-size="20.60" fill="#000" stroke="#000" stroke-width="0.3">60°N</text>
<text transform="scale(0.9917,1)" x="842.13 854.60 867.36 876.26" y="525.85" font-size="20.60" fill="#000" stroke="#000" stroke-width="0.3">60°N</text>
<text transform="scale(0.9530,1)" x="363.73 376.71 390.00 399.40" y="616.75" font-size="20.60" fill="#000" stroke="#000" stroke-width="0.3">55°N</text>
<text transform="scale(0.9530,1)" x="876.29 889.27 902.56 911.96" y="616.75" font-size="20.60" fill="#000" stroke="#000" stroke-width="0.3">55°N</text>
<text transform="scale(0.9679,1)" x="358.05 370.90 383.93 393.13" y="697.75" font-size="20.60" fill="#000" stroke="#000" stroke-width="0.3">50°N</text>
<text transform="scale(0.9679,1)" x="862.71 875.57 888.60 897.80" y="697.75" font-size="20.60" fill="#000" stroke="#000" stroke-width="0.3">50°N</text>
<text transform="scale(0.9684,1)" x="357.96 370.66 383.76 392.96" y="769.75" font-size="20.60" fill="#000" stroke="#000" stroke-width="0.3">45°N</text>
<text transform="scale(0.9684,1)" x="862.98 875.68 888.78 897.98" y="769.75" font-size="20.60" fill="#000" stroke="#000" stroke-width="0.3">45°N</text>
<text transform="scale(0.9830,1)" x="352.55 365.14 377.99 387.00" y="835.75" font-size="20.60" fill="#000" stroke="#000" stroke-width="0.3">40°N</text>
<text transform="scale(0.9830,1)" x="850.06 862.64 875.50 884.51" y="835.75" font-size="20.60" fill="#000" stroke="#000" stroke-width="0.3">40°N</text>
<text transform="scale(1.0103,1)" x="60.33 72.76 76.80 89.02 97.92 102.84 106.76 118.44 123.28 127.86 131.33 139.12 147.55 151.19 162.01 166.85 175.44 186.68 195.24 198.87 209.19 217.83 226.59 234.98 240.28 244.01 252.81 261.87" y="974.90" font-size="14.72" fill="#000" stroke="#000" stroke-width="0.3">© Met Office Crown Copyright</text>
<g fill="#ceff2c"><path d="M15.17,44.50 C16.39,44.40 19.89,44.50 22.50,43.92 C25.11,43.33 28.06,42.25 30.83,41.00 C33.61,39.75 36.39,37.81 39.17,36.42 C41.94,35.03 45.00,33.54 47.50,32.67 C50.00,31.79 51.81,31.24 54.17,31.17 C56.53,31.10 59.03,31.58 61.67,32.25 C64.31,32.92 67.50,34.47 70.00,35.17 C72.50,35.86 74.17,36.21 76.67,36.42 C79.17,36.62 82.22,36.62 85.00,36.42 C87.78,36.21 90.00,35.79 93.33,35.17 C96.67,34.54 103.06,33.08 105.00,32.67 L105.00,41.42 C103.06,41.49 96.67,41.76 93.33,41.83 C90.00,41.90 87.78,42.04 85.00,41.83 C82.22,41.62 79.44,41.14 76.67,40.58 C73.89,40.03 71.11,39.06 68.33,38.50 C65.56,37.94 62.36,37.32 60.00,37.25 C57.64,37.18 56.25,37.39 54.17,38.08 C52.08,38.78 50.00,40.10 47.50,41.42 C45.00,42.74 41.94,44.61 39.17,46.00 C36.39,47.39 33.61,48.99 30.83,49.75 C28.06,50.51 25.11,50.51 22.50,50.58 C19.89,50.65 16.39,50.24 15.17,50.17 Z"/><path d="M15.17,51.00 C16.39,51.28 19.89,52.04 22.50,52.67 C25.11,53.29 28.06,54.33 30.83,54.75 C33.61,55.17 36.39,55.51 39.17,55.17 C41.94,54.82 44.72,53.92 47.50,52.67 C50.28,51.42 53.06,49.26 55.83,47.67 C58.61,46.07 61.67,44.12 64.17,43.08 C66.67,42.04 68.75,41.56 70.83,41.42 C72.92,41.28 74.31,41.69 76.67,42.25 C79.03,42.81 82.22,43.99 85.00,44.75 C87.78,45.51 90.00,46.42 93.33,46.83 C96.67,47.25 103.06,47.18 105.00,47.25 L105.00,53.08 C103.75,53.01 100.14,53.01 97.50,52.67 C94.86,52.32 91.94,51.62 89.17,51.00 C86.39,50.38 83.61,49.19 80.83,48.92 C78.06,48.64 75.28,48.71 72.50,49.33 C69.72,49.96 66.94,51.35 64.17,52.67 C61.39,53.99 58.61,56.00 55.83,57.25 C53.06,58.50 50.28,59.54 47.50,60.17 C44.72,60.79 41.94,61.14 39.17,61.00 C36.39,60.86 33.61,59.96 30.83,59.33 C28.06,58.71 25.11,57.94 22.50,57.25 C19.89,56.56 16.39,55.51 15.17,55.17 Z"/><path d="M15.17,59.33 C16.39,59.40 19.89,59.33 22.50,59.75 C25.11,60.17 28.06,61.14 30.83,61.83 C33.61,62.53 36.39,63.22 39.17,63.92 C41.94,64.61 44.72,65.79 47.50,66.00 C50.28,66.21 53.06,66.00 55.83,65.17 C58.61,64.33 61.39,62.53 64.17,61.00 C66.94,59.47 69.72,57.39 72.50,56.00 C75.28,54.61 78.06,53.29 80.83,52.67 C83.61,52.04 86.39,51.97 89.17,52.25 C91.94,52.53 94.86,53.57 97.50,54.33 C100.14,55.10 103.75,56.42 105.00,56.83 L105.00,61.00 C103.75,60.86 100.14,60.31 97.50,60.17 C94.86,60.03 91.94,59.89 89.17,60.17 C86.39,60.44 83.61,60.72 80.83,61.83 C78.06,62.94 75.28,65.31 72.50,66.83 C69.72,68.36 66.94,70.24 64.17,71.00 C61.39,71.76 58.61,71.56 55.83,71.42 C53.06,71.28 50.28,70.79 47.50,70.17 C44.72,69.54 41.94,68.29 39.17,67.67 C36.39,67.04 33.61,66.56 30.83,66.42 C28.06,66.28 25.11,66.42 22.50,66.83 C19.89,67.25 16.39,68.57 15.17,68.92 Z"/><path d="M15.17,74.33 C16.39,73.85 19.89,72.18 22.50,71.42 C25.11,70.65 28.06,69.96 30.83,69.75 C33.61,69.54 36.39,69.82 39.17,70.17 C41.94,70.51 44.72,71.14 47.50,71.83 C50.28,72.53 53.06,73.64 55.83,74.33 C58.61,75.03 61.39,76.14 64.17,76.00 C66.94,75.86 69.72,74.75 72.50,73.50 C75.28,72.25 78.06,70.03 80.83,68.50 C83.61,66.97 86.39,65.38 89.17,64.33 C91.94,63.29 94.86,62.53 97.50,62.25 C100.14,61.97 103.75,62.60 105.00,62.67 L105.00,68.08 C103.06,68.71 96.67,70.51 93.33,71.83 C90.00,73.15 87.78,74.61 85.00,76.00 C82.22,77.39 79.44,79.06 76.67,80.17 C73.89,81.28 71.11,82.39 68.33,82.67 C65.56,82.94 62.78,82.39 60.00,81.83 C57.22,81.28 54.44,80.10 51.67,79.33 C48.89,78.57 46.11,77.67 43.33,77.25 C40.56,76.83 37.78,76.63 35.00,76.83 C32.22,77.04 29.17,77.53 26.67,78.50 C24.17,79.47 21.92,81.21 20.00,82.67 C18.08,84.12 15.97,86.49 15.17,87.25 Z"/></g>
<text x="13.73" y="109.25" font-size="21.80" font-weight="bold" fill="#231f20" stroke="#231f20" stroke-width="0.5" textLength="91.92" lengthAdjust="spacingAndGlyphs">Met Office</text>
</svg>
</body></html>
